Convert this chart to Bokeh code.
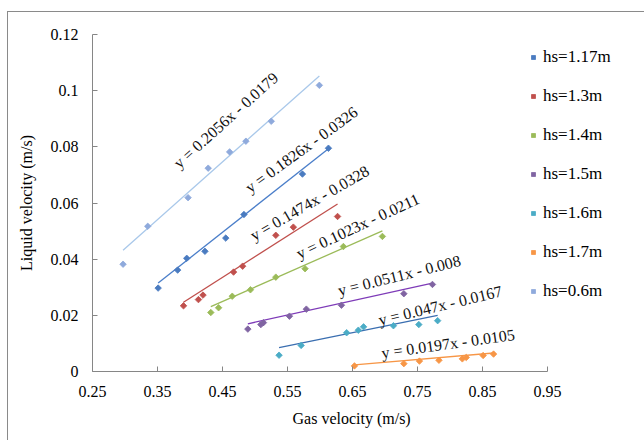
from bokeh.plotting import figure
from bokeh.models import Legend, LegendItem, Range1d, FixedTicker, Title, ColumnDataSource
from bokeh.core.properties import value
from bokeh.embed import file_html
from bokeh.resources import INLINE
import math

# ---------------- data ----------------
series_labels = ["hs=1.17m", "hs=1.3m", "hs=1.4m", "hs=1.5m", "hs=1.6m", "hs=1.7m", "hs=0.6m"]

gas_117 = [0.351, 0.381, 0.395, 0.423, 0.455, 0.483, 0.573, 0.613]
liq_117 = [0.0297, 0.0361, 0.0403, 0.0428, 0.0475, 0.0559, 0.0703, 0.0795]

gas_13 = [0.390, 0.413, 0.420, 0.467, 0.481, 0.532, 0.559, 0.627]
liq_13 = [0.0234, 0.0256, 0.0272, 0.0354, 0.0375, 0.0485, 0.0514, 0.0552]

gas_14 = [0.432, 0.444, 0.465, 0.493, 0.532, 0.577, 0.636, 0.696]
liq_14 = [0.0210, 0.0227, 0.0268, 0.0291, 0.0336, 0.0366, 0.0445, 0.0481]

gas_15 = [0.489, 0.509, 0.513, 0.553, 0.579, 0.633, 0.729, 0.773]
liq_15 = [0.0151, 0.0167, 0.0174, 0.0197, 0.0222, 0.0236, 0.0277, 0.0310]

gas_16 = [0.537, 0.571, 0.641, 0.659, 0.667, 0.713, 0.752, 0.781]
liq_16 = [0.0058, 0.0093, 0.0138, 0.0147, 0.0159, 0.0163, 0.0167, 0.0181]

gas_17 = [0.653, 0.729, 0.753, 0.783, 0.819, 0.825, 0.851, 0.867]
liq_17 = [0.0020, 0.0028, 0.0037, 0.0040, 0.0045, 0.0050, 0.0057, 0.0062]

gas_06 = [0.297, 0.335, 0.397, 0.428, 0.461, 0.486, 0.525, 0.599]
liq_06 = [0.0382, 0.0517, 0.0619, 0.0724, 0.0782, 0.0820, 0.0891, 0.1019]

# trendline coefficients (from the equation labels)
slopes = [0.1826, 0.1474, 0.1023, 0.0511, 0.047, 0.0197, 0.2056]
intercepts = [-0.0326, -0.0328, -0.0211, -0.008, -0.0167, -0.0105, -0.0179]
eq_texts = ["y = 0.1826x - 0.0326", "y = 0.1474x - 0.0328", "y = 0.1023x - 0.0211",
            "y = 0.0511x - 0.008", "y = 0.047x - 0.0167", "y = 0.0197x - 0.0105",
            "y = 0.2056x - 0.0179"]

x_ticks = [0.25, 0.35, 0.45, 0.55, 0.65, 0.75, 0.85, 0.95]
x_tick_labels = ["0.25", "0.35", "0.45", "0.55", "0.65", "0.75", "0.85", "0.95"]
y_ticks = [0, 0.02, 0.04, 0.06, 0.08, 0.1, 0.12]
y_tick_labels = ["0", "0.02", "0.04", "0.06", "0.08", "0.1", "0.12"]

# ---------------- styling ----------------
point_colors = ["#4A7BC0", "#C0504D", "#9BBB59", "#8064A2", "#4BACC6", "#F79646", "#8FAADC"]
line_colors = ["#4A7EC9", "#C0504D", "#9BBB59", "#7E3BB8", "#3A6EB0", "#F79646", "#A9C8EA"]
# equation label placement (layout only)
label_pos_x = [0.5715, 0.584, 0.658, 0.722, 0.785, 0.797, 0.455]
label_pos_y = [0.0790, 0.0600, 0.0518, 0.0342, 0.0235, 0.0099, 0.0895]
label_angle_deg = [36, 30, 25, 14, 13.5, 8, 42]

FONT = "Liberation Serif"
AXIS_GRAY = "#868686"

p = figure(width=637, height=429, output_backend="svg", toolbar_location=None,
           x_range=Range1d(0.25, 1.07), y_range=Range1d(0, 0.12),
           min_border_left=84, min_border_right=20, min_border_top=22, min_border_bottom=70)
p.styles = {"margin-left": "7px", "margin-top": "11px",
            "border-left": "1px solid #8a8a8a", "border-top": "1px solid #8a8a8a"}
p.background_fill_color = "white"
p.border_fill_color = "white"
p.outline_line_color = None
p.xgrid.visible = False
p.ygrid.visible = False

gas_all = [gas_117, gas_13, gas_14, gas_15, gas_16, gas_17, gas_06]
liq_all = [liq_117, liq_13, liq_14, liq_15, liq_16, liq_17, liq_06]

legend_renderers = []
for i in range(7):
    gx = gas_all[i]
    x0, x1 = min(gx), max(gx)
    p.line([x0, x1], [slopes[i] * x0 + intercepts[i], slopes[i] * x1 + intercepts[i]],
           line_color=line_colors[i], line_width=1.3)
for i in range(7):
    r = p.scatter(gas_all[i], liq_all[i], marker="square", size=4.6, angle=0.7854,
                  fill_color=point_colors[i], line_color=point_colors[i], line_width=0.8)
    legend_renderers.append(r)

src = ColumnDataSource(dict(x=label_pos_x, y=label_pos_y, t=eq_texts,
                            a=[math.radians(d) for d in label_angle_deg]))
p.text(x="x", y="y", text="t", angle="a", source=src, text_align="center",
       text_baseline="middle", text_font=value(FONT), text_font_size=value("16px"),
       text_color="#111111")

# axes
for ax in (p.xaxis[0], p.yaxis[0]):
    ax.axis_line_color = AXIS_GRAY
    ax.major_tick_line_color = AXIS_GRAY
    ax.major_tick_in = 5
    ax.major_tick_out = 0
    ax.minor_tick_line_color = None
    ax.major_label_text_font = FONT
    ax.major_label_text_font_size = "16px"
    ax.major_label_text_color = "black"
p.xaxis.bounds = (0.25, 0.95)
p.xaxis.major_label_standoff = 14
p.yaxis.major_label_standoff = 14

p.xaxis.ticker = FixedTicker(ticks=x_ticks)
p.xaxis.major_label_overrides = dict(zip(x_ticks, x_tick_labels))
p.yaxis.ticker = FixedTicker(ticks=y_ticks)
p.yaxis.major_label_overrides = dict(zip(y_ticks, y_tick_labels))

p.yaxis.axis_label = "Liquid velocity (m/s)"
p.yaxis.axis_label_text_font = FONT
p.yaxis.axis_label_text_font_size = "16px"
p.yaxis.axis_label_text_font_style = "normal"
p.yaxis.axis_label_text_color = "black"
p.yaxis.axis_label_standoff = 13

xt = Title(text="Gas velocity (m/s)", align="left", offset=200, text_font=FONT,
           text_font_size="16px", text_font_style="normal", text_color="black", standoff=16)
p.add_layout(xt, "below")

legend = Legend(items=[LegendItem(label=series_labels[i], renderers=[legend_renderers[i]])
                       for i in range(7)],
                location=(436, 70), glyph_width=10, glyph_height=10, label_height=20,
                spacing=19, label_standoff=5, padding=0, margin=0,
                border_line_color=None, background_fill_alpha=0,
                label_text_font=FONT, label_text_font_size="17px", label_text_color="black")
p.add_layout(legend)

open("out.html", "w").write(file_html(p, INLINE))
